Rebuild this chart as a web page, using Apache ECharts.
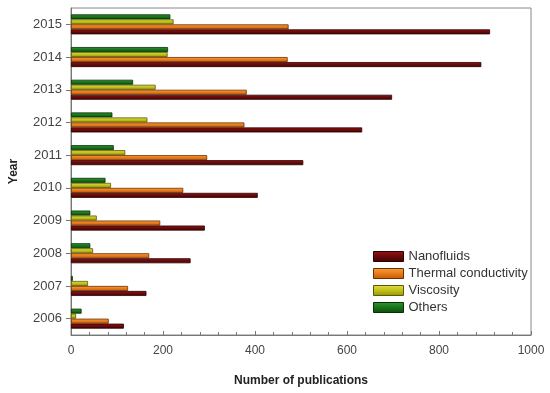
<!DOCTYPE html>
<html>
<head>
<meta charset="utf-8">
<script src="https://cdn.jsdelivr.net/npm/echarts@6/dist/echarts.min.js"></script>
<style>html,body{margin:0;padding:0;background:#fff}#c{width:550px;height:393px}</style>
</head>
<body>
<div id="c"></div>
<script>
var years = ['2006','2007','2008','2009','2010','2011','2012','2013','2014','2015'];
var nanofluids = [115,164,260,291,406,505,633,698,892,911];
var thermalConductivity = [82,124,170,194,244,296,377,382,471,473];
var viscosity = [11,37,48,56,87,118,166,184,210,223];
var others = [23,4,42,42,75,93,90,135,211,216];
var xTicks = [0,200,400,600,800,1000];

function grad(top, mid, bot){
  return new echarts.graphic.LinearGradient(0,0,0,1,[
    {offset:0,color:top},{offset:0.45,color:mid},{offset:1,color:bot}]);
}
var chart = echarts.init(document.getElementById('c'));
var font = 'Liberation Sans, Arial, sans-serif';
function mk(name, data, fill, border){
  return {name:name,type:'bar',data:data,barWidth:5,barGap:'0%',
    itemStyle:{color:fill,borderColor:border,borderWidth:0.8}};
}
chart.setOption({
  animation:false,
  grid:{left:71,right:19,top:8,bottom:58,show:true,borderColor:'#888',borderWidth:1},
  xAxis:{type:'value',min:xTicks[0],max:xTicks[xTicks.length-1],interval:200,
    name:'Number of publications',nameLocation:'middle',nameGap:40,
    nameTextStyle:{fontFamily:font,fontWeight:'bold',fontSize:12,color:'#222'},
    axisLine:{show:true,lineStyle:{color:'#777'}},
    axisTick:{show:true,inside:true,length:4,lineStyle:{color:'#777'}},
    minorTick:{show:true,splitNumber:5,length:3,lineStyle:{color:'#777'}},
    splitLine:{show:false},
    axisLabel:{fontFamily:font,fontSize:12,color:'#444',margin:10,formatter:function(v){return String(v);}}},
  yAxis:{type:'category',data:years,
    name:'Year',nameLocation:'middle',nameGap:51,nameRotate:90,
    nameTextStyle:{fontFamily:font,fontWeight:'bold',fontSize:12,color:'#222'},
    axisLine:{show:true,lineStyle:{color:'#777'}},
    axisTick:{show:true,alignWithLabel:true,length:5,lineStyle:{color:'#777'}},
    axisLabel:{fontFamily:font,fontSize:13,color:'#444',margin:9}},
  legend:{orient:'vertical',left:368,top:245,itemWidth:30,itemHeight:10,itemGap:4,
    icon:'rect',itemStyle:{borderWidth:1},
    textStyle:{fontFamily:font,fontSize:13,color:'#333'},
    data:['Nanofluids','Thermal conductivity','Viscosity','Others']},
  series:[
    mk('Others',others,grad('#2e9a2e','#1c761c','#0c4a0c'),'#063006'),
    mk('Viscosity',viscosity,grad('#dede50','#c4c41c','#94940a'),'#5a5a00'),
    mk('Thermal conductivity',thermalConductivity,grad('#f7a040','#ec7e1a','#c05a0a'),'#6a3000'),
    mk('Nanofluids',nanofluids,grad('#9a1414','#6e0a0a','#3e0404'),'#2a0000')
  ]
});
</script>
</body>
</html>
